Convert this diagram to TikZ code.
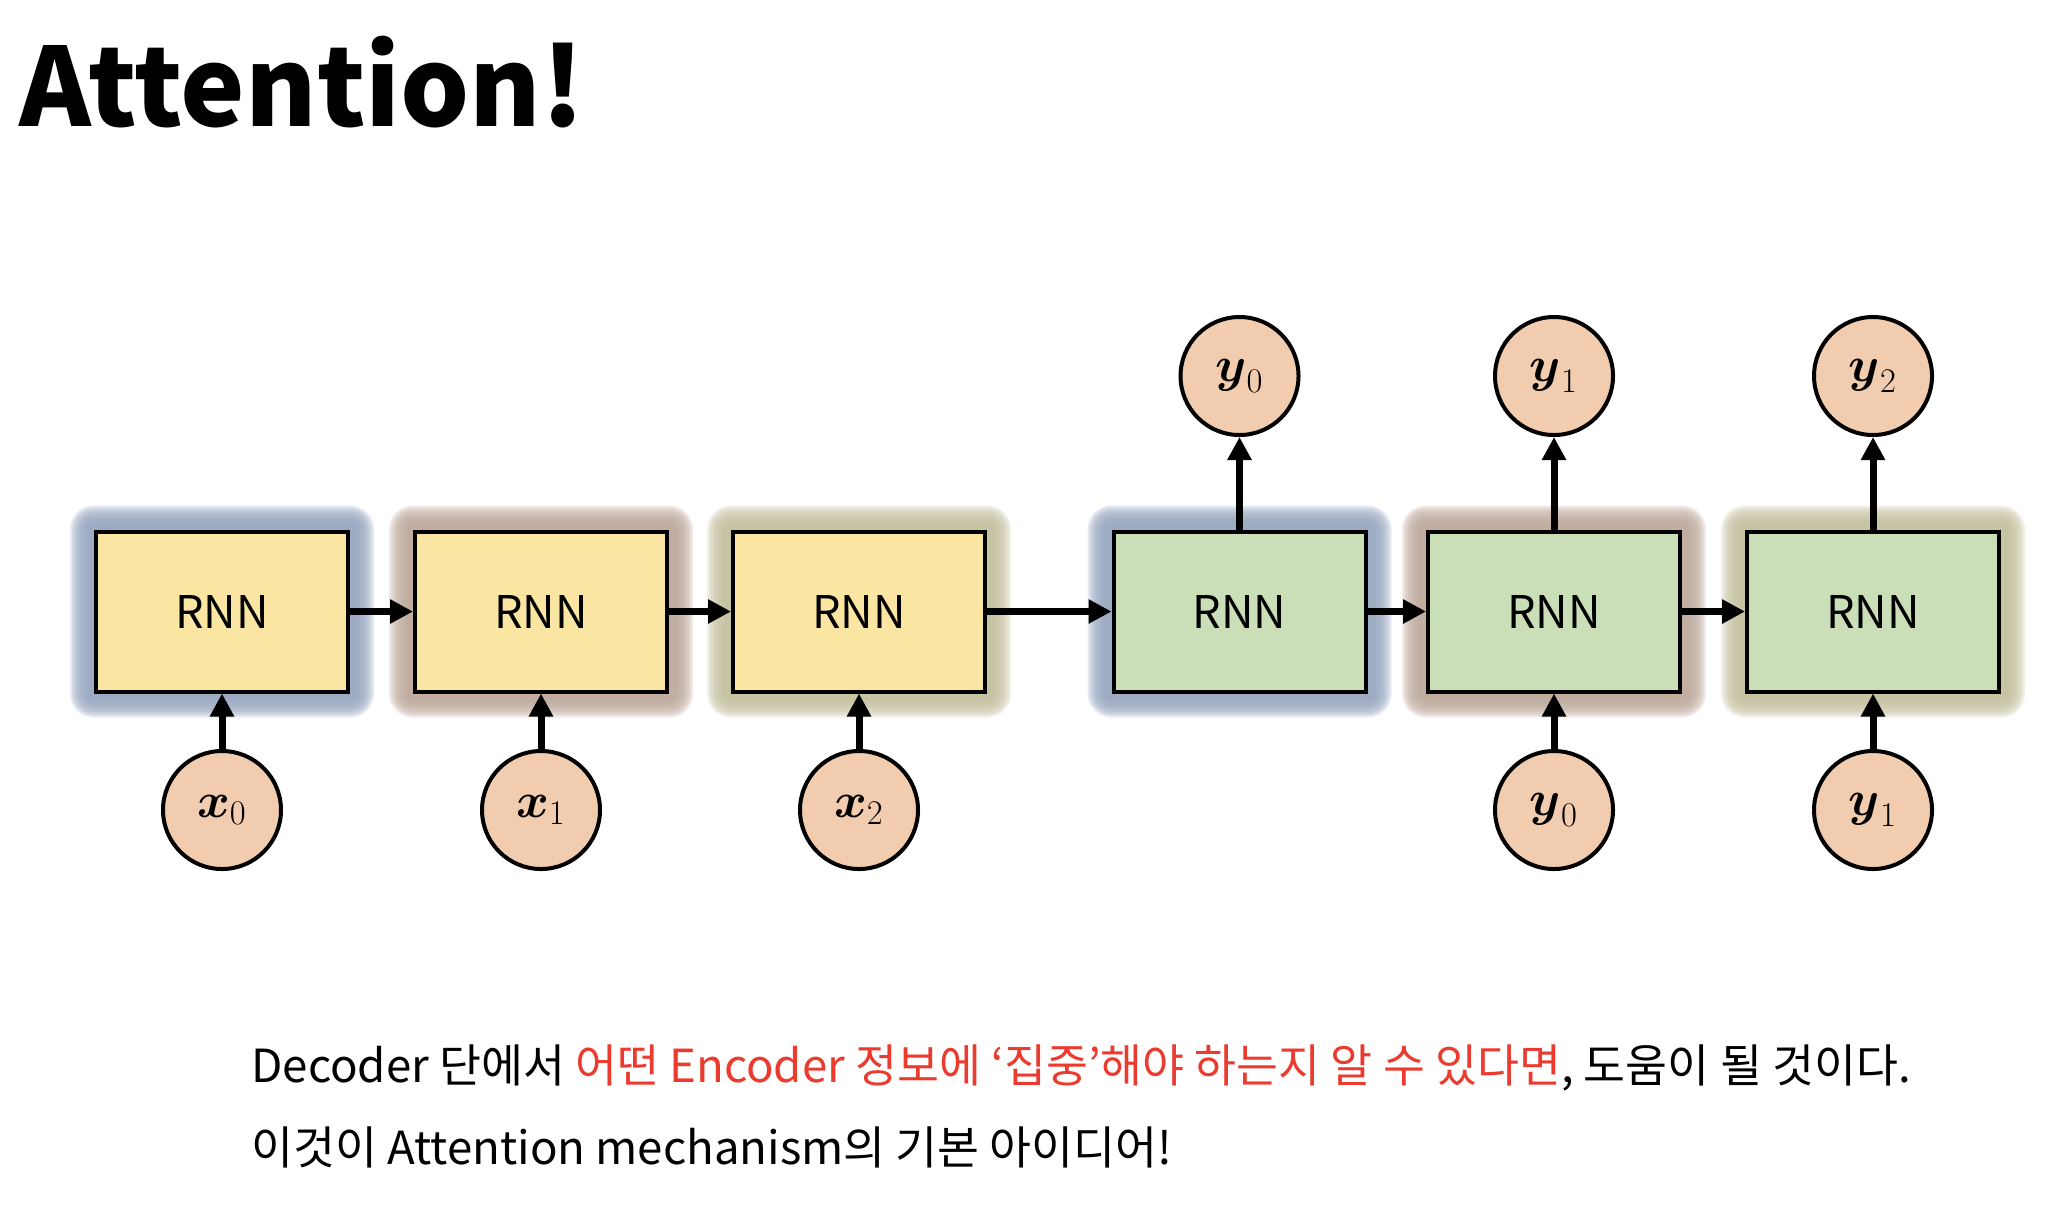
\documentclass[tikz,border=0pt]{standalone}
\usepackage[no-math]{fontspec}
\usepackage{amsmath,amsbsy}
\setmainfont{Noto Sans CJK KR}
\usetikzlibrary{arrows.meta,calc}
\definecolor{boxyellow}{RGB}{250,229,162}
\definecolor{boxgreen}{RGB}{202,223,184}
\definecolor{peach}{RGB}{242,204,174}
\definecolor{glowblue}{RGB}{152,167,193}
\definecolor{glowbrown}{RGB}{190,170,157}
\definecolor{glowolive}{RGB}{197,194,160}
\definecolor{redtxt}{RGB}{235,59,46}
\newcommand\boxglow[2]{%
  \foreach \e [evaluate=\e as \rr using \e*0.5] in {6,8,...,24}{
    \fill[#2, opacity=0.24, rounded corners=\rr pt] ($(#1)+(-128-\e,-82-\e)$) rectangle ($(#1)+(128+\e,82+\e)$);
  }}
\begin{document}
\begin{tikzpicture}[x=0.5pt,y=-0.5pt,
  rnnbox/.style={draw=black, line width=2pt, minimum width=126pt, minimum height=80pt, inner sep=0pt, font=\fontsize{22.5pt}{26pt}\selectfont},
  rnnY/.style={rnnbox, fill=boxyellow},
  rnnG/.style={rnnbox, fill=boxgreen},
  circ/.style={draw=black, line width=2pt, circle, fill=peach, minimum size=59pt, inner sep=0pt, font=\fontsize{25pt}{29pt}\selectfont},
  arr/.style={line width=3.5pt, -{Triangle[length=11.5pt,width=11.5pt]}},
  txt/.style={anchor=base west, inner sep=0pt, font=\fontsize{22.8pt}{27pt}\selectfont}
]
\useasboundingbox (0,0) rectangle (2064,1222);
\fill[white] (0,0) rectangle (2064,1222);

\coordinate (c1) at (222,611.5);
\coordinate (c2) at (541,611.5);
\coordinate (c3) at (859,611.5);
\coordinate (c4) at (1239.5,611.5);
\coordinate (c5) at (1554,611.5);
\coordinate (c6) at (1873,611.5);

\boxglow{c1}{glowblue}
\boxglow{c2}{glowbrown}
\boxglow{c3}{glowolive}
\boxglow{c4}{glowblue}
\boxglow{c5}{glowbrown}
\boxglow{c6}{glowolive}

\node[rnnY] (b1) at (c1) {RNN};
\node[rnnY] (b2) at (c2) {RNN};
\node[rnnY] (b3) at (c3) {RNN};
\node[rnnG] (b4) at (c4) {RNN};
\node[rnnG] (b5) at (c5) {RNN};
\node[rnnG] (b6) at (c6) {RNN};

\node[circ] (x0) at (222,810) {$\boldsymbol{x}_0$};
\node[circ] (x1) at (541,810) {$\boldsymbol{x}_1$};
\node[circ] (x2) at (859,810) {$\boldsymbol{x}_2$};
\node[circ] (yi0) at (1554,810) {$\boldsymbol{y}_0$};
\node[circ] (yi1) at (1873,810) {$\boldsymbol{y}_1$};
\node[circ] (yo0) at (1239.5,376) {$\boldsymbol{y}_0$};
\node[circ] (yo1) at (1554,376) {$\boldsymbol{y}_1$};
\node[circ] (yo2) at (1873,376) {$\boldsymbol{y}_2$};

\draw[arr] (b1) -- (b2);
\draw[arr] (b2) -- (b3);
\draw[arr] (b3) -- (b4);
\draw[arr] (b4) -- (b5);
\draw[arr] (b5) -- (b6);

\draw[arr] (x0) -- (b1);
\draw[arr] (x1) -- (b2);
\draw[arr] (x2) -- (b3);
\draw[arr] (yi0) -- (b5);
\draw[arr] (yi1) -- (b6);
\draw[arr] (b4) -- (yo0);
\draw[arr] (b5) -- (yo1);
\draw[arr] (b6) -- (yo2);

\node[anchor=base west, inner sep=0pt, font=\fontsize{54.4pt}{58pt}\selectfont\bfseries] (title) at (19,126) {Attention!};

\node[txt] (line1) at (251,1082) {Decoder 단에서 \textcolor{redtxt}{어떤 Encoder 정보에 ‘집중’해야 하는지 알 수 있다면}, 도움이 될 것이다.};
\node[txt] (line2) at (251,1164) {이것이 Attention mechanism의 기본 아이디어!};
\end{tikzpicture}
\end{document}
